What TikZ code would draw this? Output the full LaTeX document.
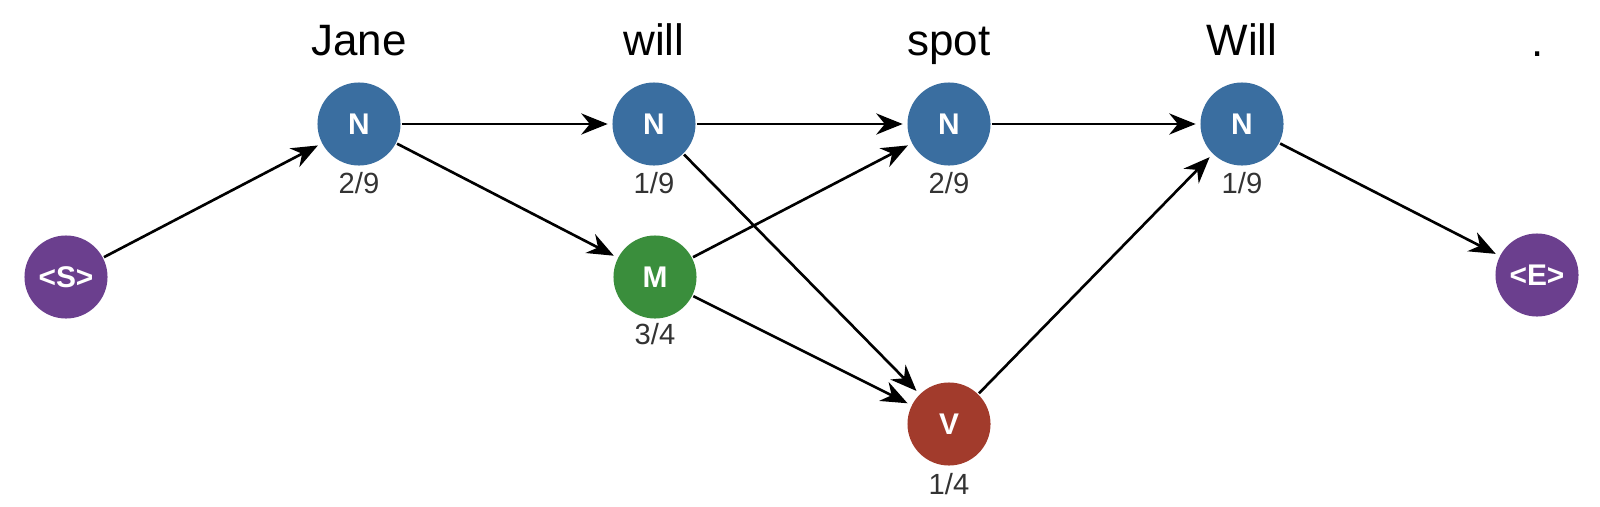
\documentclass[tikz,border=0pt]{standalone}
\usepackage{fontspec}
\setmainfont{Liberation Sans}
\usetikzlibrary{arrows.meta, positioning}
\definecolor{tagblue}{HTML}{3A6EA0}
\definecolor{taggreen}{HTML}{3A8E3C}
\definecolor{tagred}{HTML}{A23B2C}
\definecolor{tagpurple}{HTML}{6B3F8E}

\begin{document}
\begin{tikzpicture}[x=0.01cm, y=-0.01cm, line width=0.75pt,
                    tag/.style = {circle, minimum size=0.83cm, inner sep=0pt,
                        text=white, font=\fontsize{8.5}{9}\selectfont\bfseries},
                    word/.style = {anchor=base, font=\fontsize{12.5}{14}\selectfont},
                    prob/.style = {font=\fontsize{8.3}{9}\selectfont, text=black!80},
                    hop/.style = {-{Stealth[length=7.5pt, width=6pt]}, shorten >=1pt}]
        \useasboundingbox (0,0) rectangle (1600,506);

        \node[tag, fill=tagpurple] (s) at (66,277) {<S>};
        \node[tag, fill=tagblue] (n1) at (359,124) {N};
        \node[tag, fill=tagblue] (n2) at (654,124) {N};
        \node[tag, fill=taggreen] (m) at (655,277) {M};
        \node[tag, fill=tagblue] (n3) at (949,124) {N};
        \node[tag, fill=tagred] (v) at (949,424) {V};
        \node[tag, fill=tagblue] (n4) at (1242,124) {N};
        \node[tag, fill=tagpurple] (e) at (1537,275) {<E>};

        % words
        \node[word] (jane) at (359,55) {Jane};
        \node[word] (will) at (654,55) {will};
        \node[word] (spot) at (949,55) {spot};
        \node[word] (bigwill) at (1242,55) {Will};
        \node[word] (dot) at (1538,57) {.};

        % probabilities
        \node[prob] (p1) at (359,183) {2/9};
        \node[prob] (p2) at (654,183) {1/9};
        \node[prob] (pm) at (655,334) {3/4};
        \node[prob] (p3) at (949,183) {2/9};
        \node[prob] (pv) at (949,484) {1/4};
        \node[prob] (p4) at (1242,183) {1/9};

        \draw[hop] (s) -- (n1);
        \draw[hop] (n1) -- (n2);
        \draw[hop] (n1) -- (m);
        \draw[hop] (n2) -- (n3);
        \draw[hop] (n2) -- (v);
        \draw[hop] (m) -- (n3);
        \draw[hop] (m) -- (v);
        \draw[hop] (n3) -- (n4);
        \draw[hop] (v) -- (n4);
        \draw[hop] (n4) -- (e);
    \end{tikzpicture}
\end{document}
